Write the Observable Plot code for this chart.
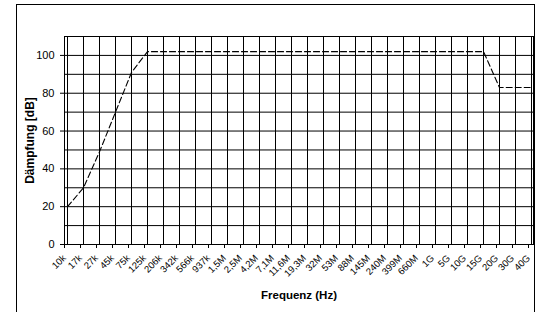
<!DOCTYPE html>
<html>
<head>
<meta charset="utf-8">
<script src="https://cdn.jsdelivr.net/npm/d3@7"></script>
<script src="https://cdn.jsdelivr.net/npm/@observablehq/plot@0.6"></script>
<style>
  html, body { margin: 0; padding: 0; background: #fff; overflow: hidden; }
  #wrap { position: relative; width: 536px; height: 312px; overflow: hidden; }
  #border { position: absolute; left: 16px; top: 4px; width: 519px; height: 330px; box-sizing: border-box; border: 1px solid #000; pointer-events: none; }
  #chart { position: absolute; left: 0; top: 0; }
</style>
</head>
<body>
<div id="wrap">
  <div id="chart"></div>
  <div id="border"></div>
</div>
<script>
const categories = ["10k","17k","27k","45k","75k","125k","206k","342k","566k","937k","1,5M","2,5M","4,2M","7,1M","11,6M","19,3M","32M","53M","88M","145M","240M","399M","660M","1G","5G","10G","15G","20G","30G","40G"];
const attenuation = [20,30,49,70,91,102,102,102,102,102,102,102,102,102,102,102,102,102,102,102,102,102,102,102,102,102,102,83,83,83];
const yTickValues = [0,20,40,60,80,100];
const yGridValues = [0,10,20,30,40,50,60,70,80,90,100,110];

const data = categories.map((c, i) => ({freq: c, db: attenuation[i]}));

const chart = Plot.plot({
  width: 536,
  height: 312,
  marginLeft: 64,
  marginRight: 3,
  marginTop: 36,
  marginBottom: 68,
  style: {fontFamily: "'Liberation Sans', Arial, sans-serif", background: "transparent", color: "#000"},
  x: {type: "point", domain: categories, padding: 0},
  y: {domain: [0, 110]},
  marks: [
    Plot.gridX(categories, {stroke: "#000", strokeOpacity: 1, strokeWidth: 1}),
    Plot.gridY(yGridValues, {stroke: "#000", strokeOpacity: 1, strokeWidth: 1}),
    Plot.frame({stroke: "#000"}),
    Plot.axisY(yTickValues, {tickSize: 4, tickPadding: 6, fontSize: 11, label: "Dämpfung [dB]", labelArrow: "none", labelAnchor: "center", labelOffset: 39}),
    Plot.axisX(categories, {tickSize: 4, tickPadding: 8, tickRotate: -45, fontSize: 9.5, dx: -3, label: null}),
    Plot.axisX({ticks: [], tickSize: 0, label: "Frequenz (Hz)", labelArrow: "none", labelAnchor: "center", labelOffset: 54, fontSize: 11}),
    Plot.line(data, {x: "freq", y: "db", stroke: "#000", strokeWidth: 1.1, strokeDasharray: "6,3"})
  ]
});
chart.querySelectorAll('g[aria-label$="axis label"] text').forEach(t => {
  t.setAttribute("font-weight", "bold");
  t.setAttribute("font-size", t.textContent.includes("Dämpfung") ? "12" : "11.5");
  t.textContent = t.textContent.replace(/[↑→]\s*/g, "").replace(/\s*[↑→]/g, "");
});
document.getElementById("chart").appendChild(chart);
</script>
</body>
</html>
